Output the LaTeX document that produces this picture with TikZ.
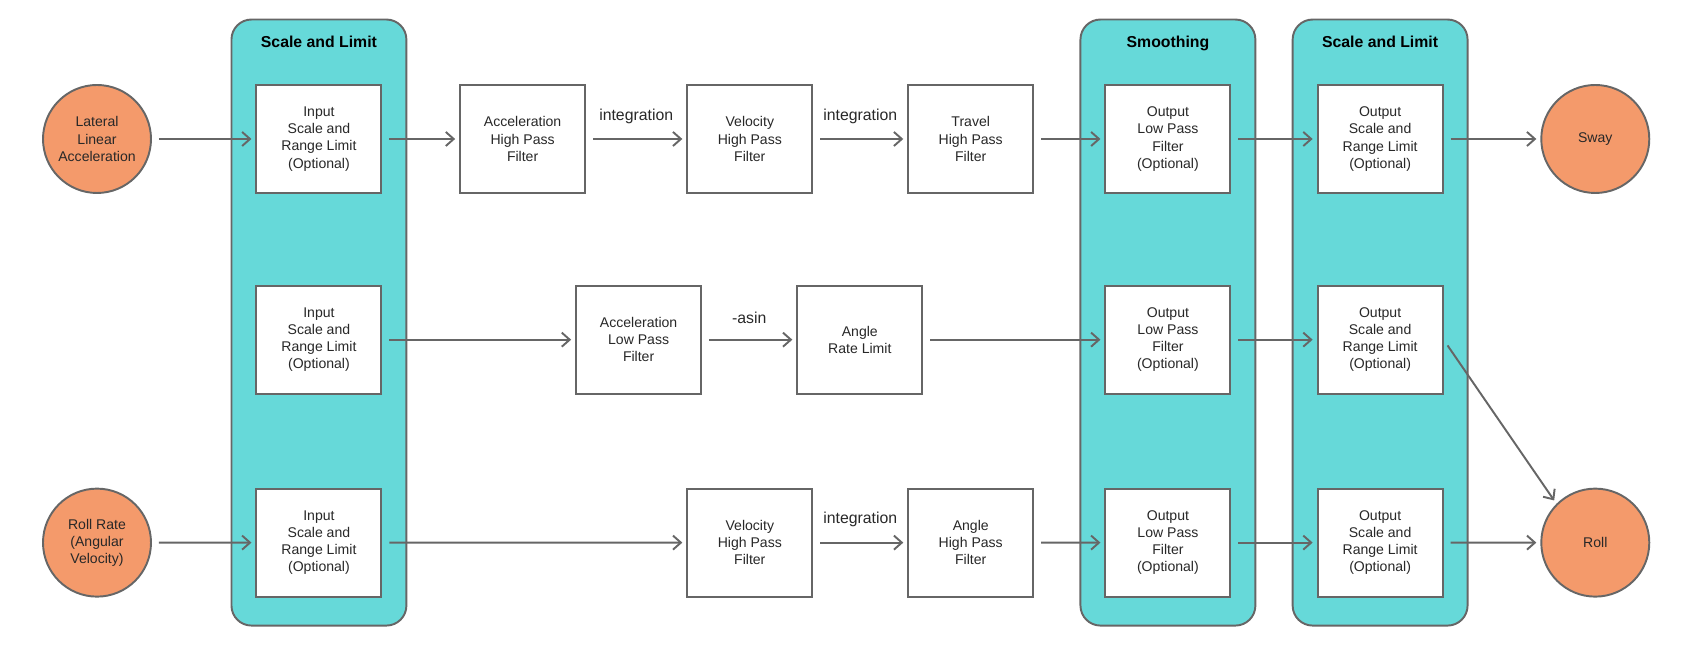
\documentclass[tikz,border=0pt]{standalone}
\usepackage{fontspec}
\setmainfont{Liberation Sans}
\usepackage{tikz}
\usetikzlibrary{positioning,arrows.meta,calc,fit,backgrounds}
\usepackage{xcolor}
\definecolor{GroupFill}{RGB}{102,217,217}
\definecolor{PortFill}{RGB}{244,154,107}
\definecolor{LineGray}{RGB}{102,102,102}
\definecolor{DarkText}{RGB}{40,40,40}

\begin{document}
\begin{tikzpicture}[
    filter/.style={rectangle, draw=LineGray, line width=1.1pt, fill=white,
        minimum width=2.5cm, minimum height=2.16cm, align=center,
        font=\fontsize{8}{9.8}\selectfont, text=DarkText},
    port/.style={circle, draw=LineGray, line width=1.1pt, fill=PortFill, inner sep=0pt,
        minimum size=2.16cm, align=center, font=\fontsize{8}{9.8}\selectfont, text=DarkText},
    group/.style={rectangle, rounded corners=0.4cm, draw=LineGray, line width=1.1pt,
        fill=GroupFill, inner xsep=0.48cm, inner ysep=0pt},
    grouptitle/.style={font=\fontsize{9}{11}\selectfont\bfseries, inner sep=0pt, anchor=base},
    flow/.style={draw=LineGray, line width=1.1pt, -{Straight Barb[length=4.5pt,width=8pt]},
        shorten <=0.14cm, shorten >=0.08cm},
    edgelabel/.style={font=\fontsize{9}{11}\selectfont, text=DarkText, midway, above=5pt},
]
\useasboundingbox (0,0) rectangle (34,13);

% row 1: lateral acceleration -> sway
\node[port] (lat) at (1.94,10.22) {Lateral\\Linear\\Acceleration};
\node[filter, right=2.07cm of lat] (in1) {Input\\Scale and\\Range Limit\\(Optional)};
\node[filter, right=1.535cm of in1] (ahp) {Acceleration\\High Pass\\Filter};
\node[filter, right=2.005cm of ahp] (vhp1) {Velocity\\High Pass\\Filter};
\node[filter, right=1.88cm of vhp1] (thp) {Travel\\High Pass\\Filter};
\node[filter, right=1.405cm of thp] (olp1) {Output\\Low Pass\\Filter\\(Optional)};
\node[filter, right=1.705cm of olp1] (osc1) {Output\\Scale and\\Range Limit\\(Optional)};
\node[port, right=1.935cm of osc1] (sway) {Sway};

% row 2: tilt coordination
\node[filter, below=1.815cm of in1] (in2) {Input\\Scale and\\Range Limit\\(Optional)};
\node[filter, right=3.855cm of in2] (alp) {Acceleration\\Low Pass\\Filter};
\node[filter, right=1.885cm of alp] (arl) {Angle\\Rate Limit};
\node[filter, below=1.815cm of olp1] (olp2) {Output\\Low Pass\\Filter\\(Optional)};
\node[filter, below=1.815cm of osc1] (osc2) {Output\\Scale and\\Range Limit\\(Optional)};

% row 3: roll rate -> roll
\node[port, below=5.874cm of lat] (rr) {Roll Rate\\(Angular\\Velocity)};
\node[filter, below=1.86cm of in2] (in3) {Input\\Scale and\\Range Limit\\(Optional)};
\node[filter, below=5.874cm of vhp1] (vhp3) {Velocity\\High Pass\\Filter};
\node[filter, below=5.874cm of thp] (ahp3) {Angle\\High Pass\\Filter};
\node[filter, below=1.86cm of olp2] (olp3) {Output\\Low Pass\\Filter\\(Optional)};
\node[filter, below=1.86cm of osc2] (osc3) {Output\\Scale and\\Range Limit\\(Optional)};
\node[port, below=5.874cm of sway] (roll) {Roll};

% stage containers
\begin{scope}[on background layer]
\coordinate (top1) at ($(in1.north)+(0,1.29)$);
\coordinate (top2) at ($(olp1.north)+(0,1.29)$);
\coordinate (top3) at ($(osc1.north)+(0,1.29)$);
\coordinate (bot1) at ($(in3.south)+(0,-0.56)$);
\coordinate (bot2) at ($(olp3.south)+(0,-0.56)$);
\coordinate (bot3) at ($(osc3.south)+(0,-0.56)$);
\node[group, fit=(top1)(in1)(bot1)] (g1) {};
\node[group, fit=(top2)(olp1)(bot2)] (g2) {};
\node[group, fit=(top3)(osc1)(bot3)] (g3) {};
\end{scope}
\node[grouptitle] at ($(g1.north)+(0,-0.58)$) {Scale and Limit};
\node[grouptitle] at ($(g2.north)+(0,-0.58)$) {Smoothing};
\node[grouptitle] at ($(g3.north)+(0,-0.58)$) {Scale and Limit};

% connectors
\draw[flow] (lat) -- (in1);
\draw[flow] (in1) -- (ahp);
\draw[flow] (ahp) -- node[edgelabel] {integration} (vhp1);
\draw[flow] (vhp1) -- node[edgelabel] {integration} (thp);
\draw[flow] (thp) -- (olp1);
\draw[flow] (olp1) -- (osc1);
\draw[flow] (osc1) -- (sway);

\draw[flow] (in2) -- (alp);
\draw[flow] (alp) -- node[edgelabel] {-asin} (arl);
\draw[flow] (arl) -- (olp2);
\draw[flow] (olp2) -- (osc2);
\draw[flow] (osc2.east) -- (roll.north west);

\draw[flow] (rr) -- (in3);
\draw[flow] (in3) -- (vhp3);
\draw[flow] (vhp3) -- node[edgelabel] {integration} (ahp3);
\draw[flow] (ahp3) -- (olp3);
\draw[flow] (olp3) -- (osc3);
\draw[flow] (osc3) -- (roll);
\end{tikzpicture}
\end{document}
